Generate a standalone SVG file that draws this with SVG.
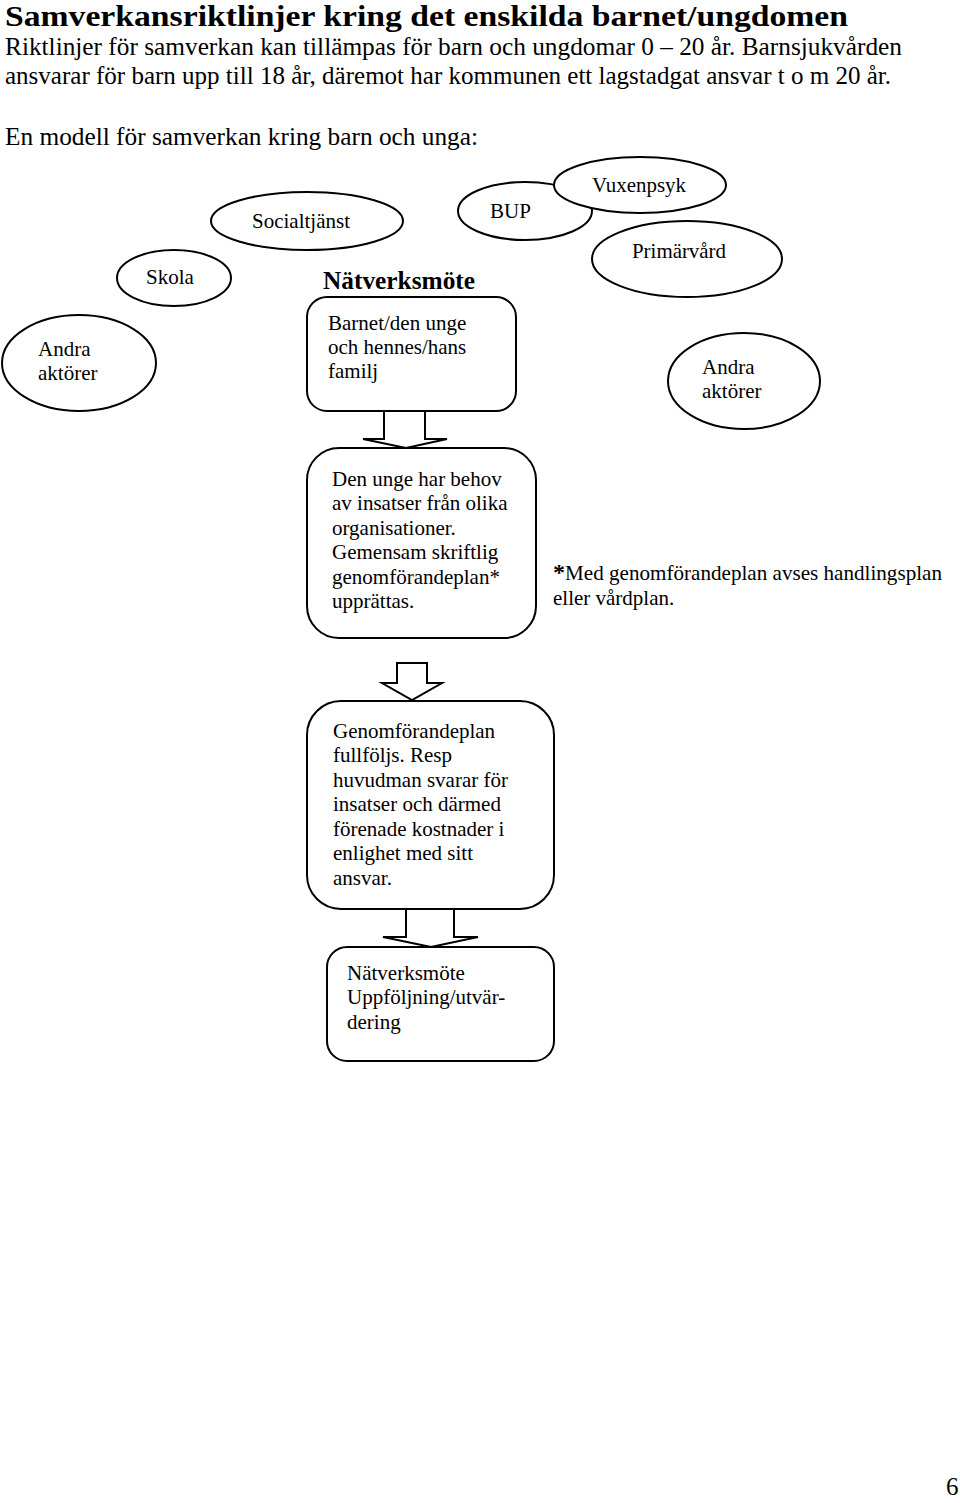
<svg xmlns="http://www.w3.org/2000/svg" width="960" height="1503" viewBox="0 0 960 1503">
<style>
text{font-family:"Liberation Serif","Times New Roman",serif;fill:#000}
.t{font-size:29px;font-weight:bold}
.b{font-size:25px}
.l{font-size:21px}
.h{font-size:25px;font-weight:bold}
.s{fill:#fff;stroke:#000;stroke-width:2}
</style>
<rect width="960" height="1503" fill="#fff"/>
<g id="header">
<text class="t" x="5" y="26" textLength="843" lengthAdjust="spacingAndGlyphs">Samverkansriktlinjer kring det enskilda barnet/ungdomen</text>
<text class="b" x="5" y="55" textLength="897" lengthAdjust="spacingAndGlyphs">Riktlinjer för samverkan kan tillämpas för barn och ungdomar 0 – 20 år. Barnsjukvården</text>
<text class="b" x="5" y="84" textLength="886" lengthAdjust="spacingAndGlyphs">ansvarar för barn upp till 18 år, däremot har kommunen ett lagstadgat ansvar t o m 20 år.</text>
<text class="b" x="5" y="145" textLength="473" lengthAdjust="spacingAndGlyphs">En modell för samverkan kring barn och unga:</text>
</g>
<g id="connectors">
<polygon class="s" points="384,411 425,411 425,439 447,439 406,448 363,439 384,439"/>
<polygon class="s" points="397,663 427,663 427,683 442,683 412,700 382,683 397,683"/>
<polygon class="s" points="406,909 454,909 454,937 478,937 431,947 383,937 406,937"/>
</g>
<g id="n-socialtjanst">
<ellipse class="s" cx="307" cy="221" rx="96" ry="29"/>
<text class="l" x="252" y="228" textLength="98" lengthAdjust="spacingAndGlyphs">Socialtjänst</text>
</g>
<g id="n-skola">
<ellipse class="s" cx="174" cy="278" rx="57" ry="28"/>
<text class="l" x="146" y="284">Skola</text>
</g>
<g id="n-andra-left">
<ellipse class="s" cx="79" cy="363" rx="77" ry="48"/>
<text class="l" x="38" y="356">Andra</text>
<text class="l" x="38" y="380">aktörer</text>
</g>
<g id="n-bup">
<ellipse class="s" cx="525" cy="211" rx="67" ry="29"/>
<text class="l" x="490" y="218">BUP</text>
</g>
<g id="n-vuxenpsyk">
<ellipse class="s" cx="640" cy="185" rx="86" ry="28"/>
<text class="l" x="592" y="192" textLength="94" lengthAdjust="spacingAndGlyphs">Vuxenpsyk</text>
</g>
<g id="n-primarvard">
<ellipse class="s" cx="687" cy="259" rx="95" ry="38"/>
<text class="l" x="632" y="258" textLength="94" lengthAdjust="spacingAndGlyphs">Primärvård</text>
</g>
<g id="n-andra-right">
<ellipse class="s" cx="744" cy="381" rx="76" ry="48"/>
<text class="l" x="702" y="374">Andra</text>
<text class="l" x="702" y="398">aktörer</text>
</g>
<g id="n-natverksmote">
<text class="h" x="323" y="289" textLength="152" lengthAdjust="spacingAndGlyphs">Nätverksmöte</text>
<rect class="s" x="307" y="297" width="209" height="114" rx="20"/>
<text class="l" x="328" y="330">Barnet/den unge</text>
<text class="l" x="328" y="354">och hennes/hans</text>
<text class="l" x="328" y="378">familj</text>
</g>
<g id="n-behov">
<rect class="s" x="307" y="448" width="229" height="190" rx="32"/>
<text class="l" x="332" y="486">Den unge har behov</text>
<text class="l" x="332" y="510">av insatser från olika</text>
<text class="l" x="332" y="535">organisationer.</text>
<text class="l" x="332" y="559">Gemensam skriftlig</text>
<text class="l" x="332" y="584">genomförandeplan*</text>
<text class="l" x="332" y="608">upprättas.</text>
</g>
<g id="n-note">
<text class="l" x="553" y="580" textLength="389" lengthAdjust="spacingAndGlyphs"><tspan font-weight="bold" font-size="24">*</tspan>Med genomförandeplan avses handlingsplan</text>
<text class="l" x="553" y="605">eller vårdplan.</text>
</g>
<g id="n-genomforande">
<rect class="s" x="307" y="701" width="247" height="208" rx="34"/>
<text class="l" x="333" y="738">Genomförandeplan</text>
<text class="l" x="333" y="762">fullföljs. Resp</text>
<text class="l" x="333" y="787">huvudman svarar för</text>
<text class="l" x="333" y="811">insatser och därmed</text>
<text class="l" x="333" y="836">förenade kostnader i</text>
<text class="l" x="333" y="860">enlighet med sitt</text>
<text class="l" x="333" y="885">ansvar.</text>
</g>
<g id="n-uppfoljning">
<rect class="s" x="327" y="947" width="227" height="114" rx="20"/>
<text class="l" x="347" y="980">Nätverksmöte</text>
<text class="l" x="347" y="1004">Uppföljning/utvär-</text>
<text class="l" x="347" y="1029">dering</text>
</g>
<text class="b" x="946" y="1495">6</text>
</svg>
